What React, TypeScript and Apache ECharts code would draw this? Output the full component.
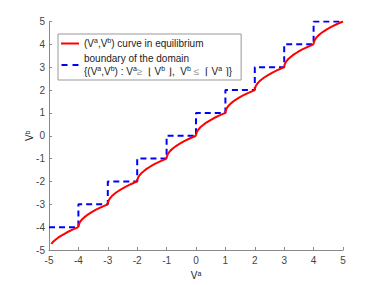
import React, { useEffect, useRef } from "react";
import * as echarts from "echarts";

// Red curve, one segment per unit step
const curveSegments: number[][][] = [
  [[-4.92, -4.73], [-4.86, -4.64], [-4.78, -4.55], [-4.68, -4.45], [-4.55, -4.345], [-4.4, -4.235], [-4.2, -4.11], [-4, -4]],
  [[-4, -4], [-3.997, -3.95], [-3.985, -3.89], [-3.96, -3.81], [-3.92, -3.73], [-3.86, -3.64], [-3.78, -3.55], [-3.68, -3.45], [-3.55, -3.345], [-3.4, -3.235], [-3.2, -3.11], [-3, -3]],
  [[-3, -3], [-2.997, -2.95], [-2.985, -2.89], [-2.96, -2.81], [-2.92, -2.73], [-2.86, -2.64], [-2.78, -2.55], [-2.68, -2.45], [-2.55, -2.345], [-2.4, -2.235], [-2.2, -2.11], [-2, -2]],
  [[-2, -2], [-1.997, -1.95], [-1.985, -1.89], [-1.96, -1.81], [-1.92, -1.73], [-1.86, -1.64], [-1.78, -1.55], [-1.68, -1.45], [-1.55, -1.345], [-1.4, -1.235], [-1.2, -1.11], [-1, -1]],
  [[-1, -1], [-0.997, -0.95], [-0.985, -0.89], [-0.96, -0.81], [-0.92, -0.73], [-0.86, -0.64], [-0.78, -0.55], [-0.68, -0.45], [-0.55, -0.345], [-0.4, -0.235], [-0.2, -0.11], [0, 0]],
  [[0, 0], [0.003, 0.05], [0.015, 0.11], [0.04, 0.19], [0.08, 0.27], [0.14, 0.36], [0.22, 0.45], [0.32, 0.55], [0.45, 0.655], [0.6, 0.765], [0.8, 0.89], [1, 1]],
  [[1, 1], [1.003, 1.05], [1.015, 1.11], [1.04, 1.19], [1.08, 1.27], [1.14, 1.36], [1.22, 1.45], [1.32, 1.55], [1.45, 1.655], [1.6, 1.765], [1.8, 1.89], [2, 2]],
  [[2, 2], [2.003, 2.05], [2.015, 2.11], [2.04, 2.19], [2.08, 2.27], [2.14, 2.36], [2.22, 2.45], [2.32, 2.55], [2.45, 2.655], [2.6, 2.765], [2.8, 2.89], [3, 3]],
  [[3, 3], [3.003, 3.05], [3.015, 3.11], [3.04, 3.19], [3.08, 3.27], [3.14, 3.36], [3.22, 3.45], [3.32, 3.55], [3.45, 3.655], [3.6, 3.765], [3.8, 3.89], [4, 4]],
  [[4, 4], [4.003, 4.05], [4.015, 4.11], [4.04, 4.19], [4.08, 4.27], [4.14, 4.36], [4.22, 4.45], [4.32, 4.55], [4.45, 4.655], [4.6, 4.765], [4.8, 4.89], [5, 5]],
];

// Blue dashed staircase boundary
const boundaryPoints: number[][] = [
  [-5, -4], [-4, -4], [-4, -3], [-3, -3], [-3, -2], [-2, -2], [-2, -1], [-1, -1],
  [-1, 0], [0, 0], [0, 1], [1, 1], [1, 2], [2, 2], [2, 3], [3, 3], [3, 4], [4, 4],
  [4, 5], [5, 5],
];

const curveName = "curve";
const boundaryName = "boundary";

export default function App() {
  const ref = useRef<HTMLDivElement>(null);
  useEffect(() => {
    if (!ref.current) return;
    const chart = echarts.init(ref.current, undefined, { renderer: "svg" });
    const font = "Liberation Sans";
    const sup = { fontSize: 7, verticalAlign: "top" as const, lineHeight: 8, fontFamily: font, color: "#222" };
    const series: any[] = curveSegments.map((seg) => ({
      type: "line",
      name: curveName,
      data: seg,
      symbol: "none",
      lineStyle: { color: "#ff0000", width: 2, join: "round" },
      itemStyle: { color: "#ff0000" },
      z: 3,
    }));
    series.push({
      type: "line",
      name: boundaryName,
      data: boundaryPoints,
      symbol: "none",
      lineStyle: { color: "#0000ff", width: 2, type: [6, 4] },
      itemStyle: { color: "#0000ff" },
      z: 2,
    });
    const axisCommon = {
      type: "value",
      min: -5,
      max: 5,
      interval: 1,
      nameLocation: "middle",
      nameMoveOverlap: false,
      nameTextStyle: { fontSize: 10, color: "#222", fontFamily: font, rich: { sup } },
      axisLine: { show: true, onZero: false, lineStyle: { color: "#8a8a8a", width: 1 } },
      axisTick: { show: true, inside: true, length: 3, lineStyle: { color: "#8a8a8a" } },
      splitLine: { show: false },
    };
    chart.setOption({
      animation: false,
      grid: { left: 49, right: 37, top: 21.5, bottom: 33 },
      xAxis: {
        ...axisCommon,
        name: "V{sup|a}",
        nameGap: 20,
        axisLabel: { fontSize: 10, color: "#444", fontFamily: font, margin: 5 },
      },
      yAxis: {
        ...axisCommon,
        name: "V{sup|b}",
        nameGap: 15,
        axisLabel: { fontSize: 10, color: "#444", fontFamily: font, margin: 4 },
      },
      legend: {
        orient: "vertical",
        left: 58,
        top: 34,
        itemWidth: 18,
        itemHeight: 2,
        itemGap: 2,
        padding: [3, 9, 2, 3],
        borderColor: "#999",
        borderWidth: 1,
        borderRadius: 0,
        backgroundColor: "#fff",
        data: [
          { name: curveName, icon: "path://M0,0h18v2h-18z" },
          { name: boundaryName, icon: "path://M0,0h6v2h-6zM11,0h6v2h-6z" },
        ],
        formatter: (name: string) =>
          name === curveName
            ? "(V{sup|a},V{sup|b}) curve in equilibrium"
            : "boundary of the domain\n{(V{sup|a},V{sup|b}) : V{sup|a}{g|≥}  ⌊ V{sup|b} ⌋,  V{sup|b} {g|≤}  ⌈ V{sup|a} ⌉}",
        textStyle: {
          fontSize: 10,
          color: "#222",
          fontFamily: font,
          lineHeight: 13,
          rich: { sup, g: { color: "#999", fontSize: 10, fontFamily: font } },
        },
      },
      series,
    });
    return () => chart.dispose();
  }, []);
  return <div ref={ref} style={{ width: 380, height: 285, position: "absolute", left: 0, top: 0 }} />;
}
